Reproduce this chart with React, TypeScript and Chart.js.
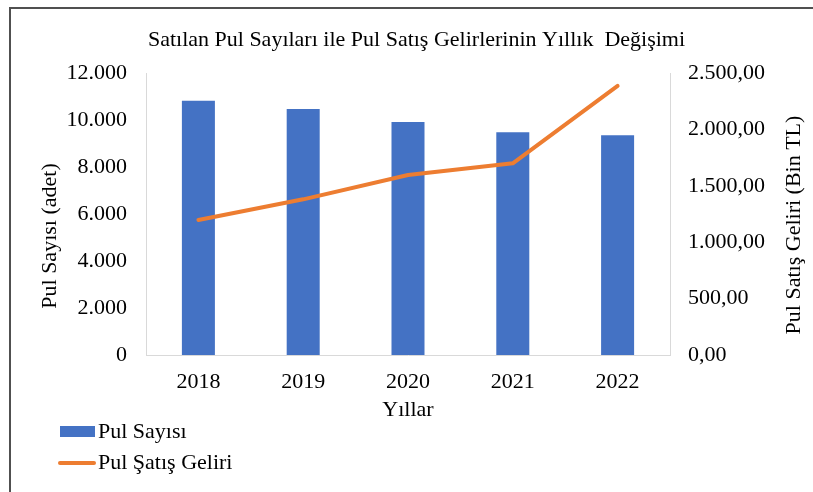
import React, { useEffect, useRef } from 'react';
import Chart from 'chart.js/auto';

const years: string[] = ['2018', '2019', '2020', '2021', '2022'];
const stampCounts: number[] = [10820, 10470, 9915, 9480, 9350];
const stampRevenue: number[] = [1197, 1380, 1596, 1699, 2385];

const countAxisMax = 12000;
const countAxisStep = 2000;
const revenueAxisMax = 2500;
const revenueAxisStep = 500;

const chartTitle = 'Satılan Pul Sayıları ile Pul Satış Gelirlerinin Yıllık  Değişimi';
const xAxisTitle = 'Yıllar';
const countAxisTitle = 'Pul Sayısı (adet)';
const revenueAxisTitle = 'Pul Satış Geliri (Bin TL)';
const seriesNames: string[] = ['Pul Sayısı', 'Pul Şatış Geliri'];

const FONT = '"Liberation Serif", "Times New Roman", serif';
const BLUE = '#4472C4';
const ORANGE = '#ED7D31';
const AXIS = '#D9D9D9';

function fmtInt(v: number | string): string {
  const s = String(Math.round(Number(v)));
  return s.replace(/\B(?=(\d{3})+(?!\d))/g, '.');
}
function fmtDec(v: number): string {
  const [i, d] = Number(v).toFixed(2).split('.');
  return fmtInt(i) + ',' + d;
}

const legendPlugin = {
  id: 'stackedLegend',
  afterDraw(chart: any) {
    const ctx = chart.ctx;
    ctx.save();
    ctx.font = `22px ${FONT}`;
    ctx.textBaseline = 'middle';
    ctx.textAlign = 'left';
    chart.data.datasets.forEach((ds: any, i: number) => {
      const y = 432 + i * 31;
      if (ds.type === 'line') {
        ctx.strokeStyle = ds.borderColor;
        ctx.lineWidth = 4;
        ctx.lineCap = 'round';
        ctx.beginPath();
        ctx.moveTo(60, y);
        ctx.lineTo(94, y);
        ctx.stroke();
      } else {
        ctx.fillStyle = ds.backgroundColor;
        ctx.fillRect(60, y - 6, 35, 11);
      }
      ctx.fillStyle = '#000';
      ctx.fillText(ds.label, 98, y);
    });
    ctx.restore();
  },
};

// Both vertical axis titles read bottom-to-top, as in the reference.
const axisTitlePlugin = {
  id: 'verticalAxisTitles',
  afterDraw(chart: any) {
    const { ctx, chartArea } = chart;
    const mid = (chartArea.top + chartArea.bottom) / 2;
    const draw = (text: string, x: number, y: number) => {
      ctx.save();
      ctx.translate(x, y);
      ctx.rotate(-Math.PI / 2);
      ctx.font = `22px ${FONT}`;
      ctx.fillStyle = '#000';
      ctx.textAlign = 'center';
      ctx.textBaseline = 'middle';
      ctx.fillText(text, 0, 0);
      ctx.restore();
    };
    draw(countAxisTitle, 50, mid + 22);
    draw(revenueAxisTitle, 794, mid + 11);
  },
};

export default function App() {
  const ref = useRef<HTMLCanvasElement | null>(null);

  useEffect(() => {
    if (!ref.current) return;
    Chart.defaults.font.family = FONT;
    Chart.defaults.font.size = 22;
    Chart.defaults.color = '#000';

    const chart = new Chart(ref.current, {
      type: 'bar',
      data: {
        labels: years,
        datasets: [
          {
            type: 'bar',
            label: seriesNames[0],
            data: stampCounts,
            backgroundColor: BLUE,
            yAxisID: 'y',
            order: 1,
            categoryPercentage: 1,
            barPercentage: 0.315,
          },
          {
            type: 'line',
            label: seriesNames[1],
            data: stampRevenue,
            borderColor: ORANGE,
            backgroundColor: ORANGE,
            borderWidth: 4,
            borderCapStyle: 'round',
            borderJoinStyle: 'round',
            pointRadius: 0,
            pointHoverRadius: 0,
            tension: 0,
            yAxisID: 'y1',
            order: 0,
          },
        ],
      } as any,
      plugins: [legendPlugin, axisTitlePlugin],
      options: {
        animation: false,
        responsive: false,
        maintainAspectRatio: false,
        layout: { padding: { left: 20, right: 0, top: 0, bottom: 67 } },
        plugins: {
          legend: { display: false },
          tooltip: { enabled: false },
          title: {
            display: true,
            text: chartTitle,
            color: '#000',
            font: { family: FONT, size: 22, weight: 'normal' },
            padding: { top: 27, bottom: 19.6 },
          },
        },
        scales: {
          x: {
            type: 'category',
            offset: true,
            grid: { display: false, drawTicks: false },
            border: { display: true, color: AXIS, width: 1 },
            ticks: { padding: 13.8, color: '#000', font: { family: FONT, size: 22 } },
            title: {
              display: true,
              text: xAxisTitle,
              color: '#000',
              font: { family: FONT, size: 22 },
              padding: { top: 0, bottom: 1.8 },
            },
            afterFit: (s: any) => {
              s.height = 70;
            },
          },
          y: {
            type: 'linear',
            position: 'left',
            min: 0,
            max: countAxisMax,
            grid: { display: false, drawTicks: false },
            border: { display: true, color: AXIS, width: 1 },
            ticks: {
              stepSize: countAxisStep,
              padding: 19,
              color: '#000',
              font: { family: FONT, size: 22 },
              callback: (v: any) => fmtInt(v),
            },
            title: { display: false, text: countAxisTitle },
            afterFit: (s: any) => {
              s.width = 126;
            },
          },
          y1: {
            type: 'linear',
            position: 'right',
            min: 0,
            max: revenueAxisMax,
            grid: { display: false, drawTicks: false },
            border: { display: true, color: AXIS, width: 1 },
            ticks: {
              stepSize: revenueAxisStep,
              padding: 18,
              color: '#000',
              font: { family: FONT, size: 22 },
              callback: (v: any) => fmtDec(v),
            },
            title: { display: false, text: revenueAxisTitle },
            afterFit: (s: any) => {
              s.width = 143;
            },
          },
        },
      } as any,
    });
    return () => chart.destroy();
  }, []);

  return (
    <div style={{ position: 'fixed', left: 0, top: 0, width: 813, height: 492, background: '#fff' }}>
      <canvas ref={ref} width={813} height={492} style={{ display: 'block', width: 813, height: 492 }} />
      <div
        style={{
          position: 'absolute',
          left: 9,
          top: 7,
          right: 0,
          bottom: 0,
          borderTop: '2px solid #505050',
          borderLeft: '2px solid #505050',
          pointerEvents: 'none',
        }}
      />
    </div>
  );
}
